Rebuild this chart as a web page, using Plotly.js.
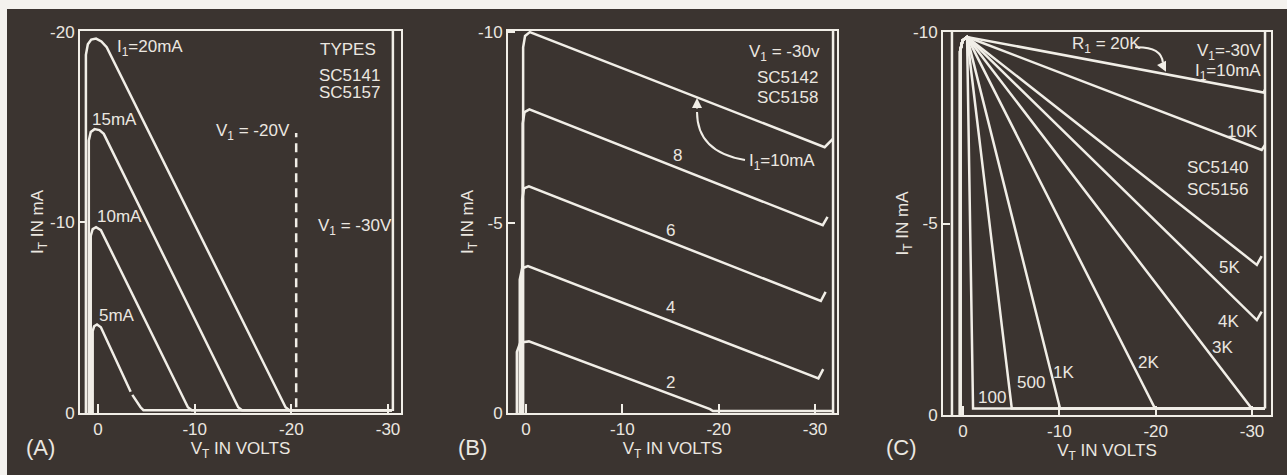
<!DOCTYPE html>
<html>
<head>
<meta charset="utf-8">
<script src="https://cdn.plot.ly/plotly-3.0.1.min.js"></script>
<style>
  html, body { margin: 0; padding: 0; background: #f4f2ee; }
  #chart { width: 1287px; height: 475px; }
</style>
</head>
<body>
<div id="chart"></div>
<script>
// ---------------- DATA ----------------
// Tick labels
const aXTickVals = [0, -10, -20, -30];
const aXTickText = ['0', '-10', '-20', '-30'];
const aYTickVals = [0, -10, -20];
const aYTickText = ['0', '-10', '-20'];
const bYTickVals = [0, -5, -10];
const bYTickText = ['0', '-5', '-10'];
const cYTickVals = [0, -5, -10];
const cYTickText = ['0', '-5', '-10'];

// Panel A: I_T (mA) vs V_T (V) for I1 = 20, 15, 10, 5 mA  (types SC5141 / SC5157)
const a20V = [1.25, 1.25, 1.05, 0.7, 0.2, -0.35, -0.9, -19.4, -19.8, -30.4];
const a20I = [0, -18.8, -19.35, -19.6, -19.65, -19.5, -19.2, -0.3, -0.15, -0.15];
const a15V = [0.95, 0.95, 0.75, 0.35, -0.15, -0.6, -14.5, -14.9, -30.4];
const a15I = [0, -14.3, -14.75, -14.9, -14.85, -14.65, -0.3, -0.15, -0.15];
const a10V = [0.75, 0.75, 0.55, 0.2, -0.3, -9.3, -9.7, -30.4];
const a10I = [0, -9.3, -9.65, -9.75, -9.6, -0.3, -0.15, -0.15];
const a5V = [0.55, 0.55, 0.4, 0.1, -0.3, -3.38, null, -3.55, -4.4, -4.7, -30.4];
const a5I = [0, -4.3, -4.55, -4.65, -4.5, -1.12, null, -0.95, -0.3, -0.15, -0.15];
const aV20LineV = [-20.5, -20.5];      // V1 = -20 V (dashed)
const aV20LineI = [-0.3, -14.7];
const aV30LineV = [-30.5, -30.5];      // V1 = -30 V
const aV30LineI = [-0.1, -20.05];

// Panel B: I1 = 10, 8, 6, 4, 2 mA, V1 = -30 V (SC5142 / SC5158)
const b10V = [0.3, 0.3, 0.1, -0.4, -31.0, -31.85];
const b10I = [0, -9.6, -9.9, -10.0, -6.98, -7.2];
const b8V = [0.35, 0.35, 0.15, -0.35, -30.8, -31.3];
const b8I = [0, -7.6, -7.9, -7.97, -4.93, -5.15];
const b6V = [0.4, 0.4, 0.2, -0.3, -30.6, -31.1];
const b6I = [0, -5.6, -5.9, -5.95, -2.94, -3.18];
const b4V = [0.65, 0.65, 0.4, -0.2, -30.35, -30.85];
const b4I = [0, -3.5, -3.8, -3.86, -0.91, -1.15];
const b2V = [0.95, 0.95, 0.6, -0.3, -19.1, -19.4, -31.85];
const b2I = [0, -1.6, -1.85, -1.88, -0.1, -0.05, -0.05];
const bV30LineV = [-31.87, -31.87];
const bV30LineI = [0, -10.03];

// Panel C: load lines R1 = 100 ... 20K, V1 = -30 V, I1 = 10 mA (SC5140 / SC5156)
const cLoads = ['100', '500', '1K', '2K', '3K', '4K', '5K', '10K', '20K'];
const cFanV = -0.42;          // common knee point
const cFanI = -9.87;
const cEndV = [-1.04, -5.06, -10.07, -19.93, -29.97, -30.5, -30.5, -31.0, -31.2];
const cEndI = [-0.17, -0.17, -0.17, -0.17, -0.17, -2.48, -3.92, -6.92, -8.42];
const cHookV = [-31.35, -31.35, -31.35, -31.35, -31.35, -31.0, -31.0, -31.35, -31.35];
const cHookI = [-0.17, -0.17, -0.17, -0.17, -0.17, -2.7, -4.15, -7.05, -8.5];
const cSweepV = [1.15, 1.15];
const cSweepI = [0, -10];
const cV30LineV = [-31.35, -31.35];
const cV30LineI = [-0.17, -10];

// ---------------- STYLE ----------------
const FONT = 'Liberation Sans, Arial, sans-serif';
const INK = '#f1eee7';
const TXT = '#ebe7e0';
const BG = '#3b3430';
const W = 1287, H = 475;

function line(x, y, xa, ya, extra) {
  return Object.assign({
    type: 'scatter', mode: 'lines', x: x, y: y, xaxis: xa, yaxis: ya,
    line: { color: INK, width: 2.5, shape: 'linear' },
    connectgaps: false, hoverinfo: 'skip', showlegend: false
  }, extra || {});
}

const traces = [
  line(a20V, a20I, 'x', 'y'),
  line(a15V, a15I, 'x', 'y'),
  line(a10V, a10I, 'x', 'y'),
  line(a5V, a5I, 'x', 'y'),
  line(aV20LineV, aV20LineI, 'x', 'y', { line: { color: INK, width: 2.5, dash: '9px,6px' } }),
  line(aV30LineV, aV30LineI, 'x', 'y'),

  line(b10V, b10I, 'x2', 'y2'),
  line(b8V, b8I, 'x2', 'y2'),
  line(b6V, b6I, 'x2', 'y2'),
  line(b4V, b4I, 'x2', 'y2'),
  line(b2V, b2I, 'x2', 'y2'),
  line(bV30LineV, bV30LineI, 'x2', 'y2'),

  line(cSweepV, cSweepI, 'x3', 'y3'),
  line(cV30LineV, cV30LineI, 'x3', 'y3')
];
cLoads.forEach(function (name, i) {
  traces.push(line(
    [0.3, 0.3, 0.05, cFanV, cEndV[i], cHookV[i]],
    [0, -9.5, -9.78, cFanI, cEndI[i], cHookI[i]],
    'x3', 'y3', { name: name }));
});

function px2fx(p) { return p / W; }
function py2fy(p) { return 1 - p / H; }

function xAxis(domain, range, anchor) {
  return {
    domain: domain, range: range, anchor: anchor, automargin: false,
    showline: true, linecolor: INK, linewidth: 2, mirror: true,
    ticks: 'inside', ticklen: 9, tickwidth: 2, tickcolor: INK,
    showgrid: false, zeroline: false,
    tickmode: 'array', tickvals: aXTickVals, ticktext: aXTickText,
    tickfont: { family: FONT, size: 17, color: TXT },
    title: { text: 'V<sub>T</sub> IN VOLTS', standoff: 3, font: { family: FONT, size: 17, color: TXT } }
  };
}
function yAxis(domain, range, anchor, vals, text) {
  return {
    domain: domain, range: range, anchor: anchor, automargin: false,
    showline: true, linecolor: INK, linewidth: 2, mirror: true,
    ticks: 'inside', ticklen: 7, tickwidth: 2, tickcolor: INK,
    showgrid: false, zeroline: false,
    tickmode: 'array', tickvals: vals, ticktext: text,
    tickfont: { family: FONT, size: 17, color: TXT },
    title: { text: 'I<sub>T</sub> IN mA', standoff: 0, font: { family: FONT, size: 17, color: TXT } }
  };
}

function ann(text, x, y, xa, ya, xanchor, size) {
  return {
    text: text, x: x, y: y, xref: xa, yref: ya, showarrow: false,
    xanchor: xanchor || 'left', yanchor: 'middle',
    font: { family: FONT, size: size || 17, color: TXT }
  };
}

const annotations = [
  // Panel A
  ann('I<sub>1</sub>=20mA', -1.76, -19.16, 'x', 'y'),
  ann('15mA', 0.83, -15.38, 'x', 'y'),
  ann('10mA', 0.31, -10.29, 'x', 'y'),
  ann('5mA', 0.1, -5.14, 'x', 'y'),
  ann('TYPES', -22.76, -19.06, 'x', 'y'),
  ann('SC5141', -22.7, -17.74, 'x', 'y'),
  ann('SC5157', -22.7, -16.8, 'x', 'y'),
  ann('V<sub>1</sub> = -20V', -20.1, -14.75, 'x', 'y', 'right'),
  ann('V<sub>1</sub> = -30V', -22.55, -9.76, 'x', 'y'),
  // Panel B
  ann('V<sub>1</sub> = -30v', -22.94, -9.45, 'x2', 'y2'),
  ann('SC5142', -23.77, -8.82, 'x2', 'y2'),
  ann('SC5158', -23.77, -8.29, 'x2', 'y2'),
  ann('8', -15.68, -6.77, 'x2', 'y2', 'center'),
  ann('6', -14.95, -4.8, 'x2', 'y2', 'center'),
  ann('4', -14.95, -2.76, 'x2', 'y2', 'center'),
  ann('2', -14.95, -0.79, 'x2', 'y2', 'center'),
  ann('I<sub>1</sub>=10mA', -22.94, -6.59, 'x2', 'y2'),
  { text: '', x: -17.75, y: -8.27, xref: 'x2', yref: 'y2', ax: 0, ay: 12,
    showarrow: true, arrowhead: 2, arrowsize: 1, arrowwidth: 2, arrowcolor: INK },
  // Panel C
  ann('R<sub>1</sub> = 20K', -11.1, -9.66, 'x3', 'y3'),
  { text: '', x: -21.07, y: -8.96, xref: 'x3', yref: 'y3', ax: -5, ay: -10,
    showarrow: true, arrowhead: 2, arrowsize: 1, arrowwidth: 2, arrowcolor: INK },
  ann('V<sub>1</sub>=-30V', -31.14, -9.48, 'x3', 'y3', 'right'),
  ann('I<sub>1</sub>=10mA', -31.14, -8.96, 'x3', 'y3', 'right'),
  ann('10K', -30.83, -7.39, 'x3', 'y3', 'right'),
  ann('SC5140', -23.05, -6.45, 'x3', 'y3'),
  ann('SC5156', -23.05, -5.9, 'x3', 'y3'),
  ann('5K', -27.7, -3.86, 'x3', 'y3', 'center'),
  ann('4K', -27.6, -2.43, 'x3', 'y3', 'center'),
  ann('3K', -26.9, -1.75, 'x3', 'y3', 'center'),
  ann('2K', -19.3, -1.38, 'x3', 'y3', 'center'),
  ann('1K', -10.38, -1.1, 'x3', 'y3', 'center'),
  ann('500', -7.06, -0.84, 'x3', 'y3', 'center'),
  ann('100', -3.0, -0.47, 'x3', 'y3', 'center'),
  // Panel letters
  ann('(A)', px2fx(40), py2fy(447), 'paper', 'paper', 'center', 22),
  ann('(B)', px2fx(472), py2fy(447), 'paper', 'paper', 'center', 22),
  ann('(C)', px2fx(902), py2fy(447), 'paper', 'paper', 'center', 22)
];

const shapes = [
  { type: 'rect', xref: 'paper', yref: 'paper', x0: px2fx(7), x1: 1, y0: 0, y1: py2fy(9),
    fillcolor: BG, line: { width: 0 }, layer: 'below' },
  // curved arrow stems
  { type: 'path', xref: 'x2', yref: 'y2', layer: 'above',
    path: 'M -22.73 -6.64 Q -17.75 -6.85 -17.75 -7.9',
    line: { color: INK, width: 2 } },
  { type: 'path', xref: 'x3', yref: 'y3', layer: 'above',
    path: 'M -17.86 -9.6 Q -20.6 -9.62 -20.75 -9.2',
    line: { color: INK, width: 2 } }
];

const layout = {
  width: W, height: H,
  margin: { l: 0, r: 0, t: 0, b: 0, pad: 0 },
  paper_bgcolor: '#f4f2ee', plot_bgcolor: 'rgba(0,0,0,0)',
  showlegend: false,
  font: { family: FONT, size: 17, color: TXT },
  xaxis: xAxis([px2fx(80), px2fx(401)], [1.86, -31.34], 'y'),
  yaxis: yAxis([py2fy(413), py2fy(31)], [0, -20.05], 'x', aYTickVals, aYTickText),
  xaxis2: xAxis([px2fx(508), px2fx(837)], [1.87, -32.28], 'y2'),
  yaxis2: yAxis([py2fy(413), py2fy(31)], [0, -10.03], 'x2', bYTickVals, bYTickText),
  xaxis3: xAxis([px2fx(943), px2fx(1271)], [2.08, -31.97], 'y3'),
  yaxis3: yAxis([py2fy(415), py2fy(32)], [0, -10], 'x3', cYTickVals, cYTickText),
  annotations: annotations,
  shapes: shapes
};

Plotly.newPlot('chart', traces, layout, { staticPlot: true, displayModeBar: false });
</script>
</body>
</html>
